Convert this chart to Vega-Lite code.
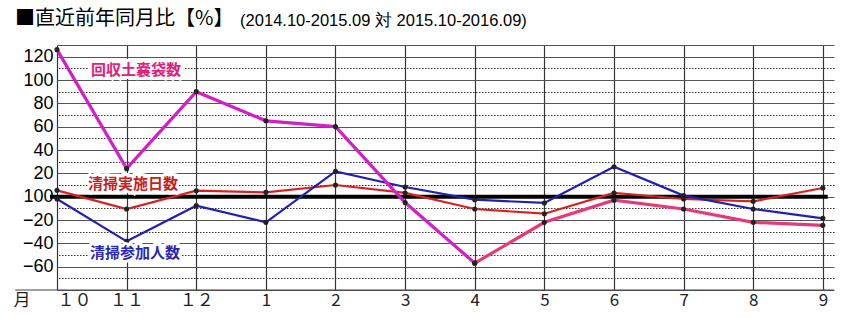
{
  "$schema": "https://vega.github.io/schema/vega-lite/v6.json",
  "width": 777,
  "height": 245,
  "autosize": {"type": "none"},
  "padding": {"left": 57, "top": 45, "right": 9, "bottom": 28},
  "background": "white",
  "title": {
    "text": "■直近前年同月比【%】",
    "anchor": "start",
    "frame": "group",
    "dx": -42,
    "font": "Noto Sans CJK JP",
    "fontSize": 20,
    "fontWeight": "normal",
    "color": "#000",
    "offset": -16
  },
  "config": {
    "view": {"stroke": null},
    "axis": {"domain": false, "ticks": false}
  },
  "datasets": {
    "series": [
      {"m": 0, "s": "mag", "v": 126}, {"m": 1, "s": "mag", "v": 24}, {"m": 2, "s": "mag", "v": 90}, {"m": 3, "s": "mag", "v": 65},
      {"m": 4, "s": "mag", "v": 60}, {"m": 5, "s": "mag", "v": -5}, {"m": 6, "s": "mag", "v": -57},
      {"m": 6, "s": "pink", "v": -57}, {"m": 7, "s": "pink", "v": -22}, {"m": 8, "s": "pink", "v": -3}, {"m": 9, "s": "pink", "v": -10.6},
      {"m": 10, "s": "pink", "v": -22}, {"m": 11, "s": "pink", "v": -24.6},
      {"m": 0, "s": "red", "v": 5.4}, {"m": 1, "s": "red", "v": -10.6}, {"m": 2, "s": "red", "v": 5.1}, {"m": 3, "s": "red", "v": 3.7},
      {"m": 4, "s": "red", "v": 10}, {"m": 5, "s": "red", "v": 3.2}, {"m": 6, "s": "red", "v": -10.6}, {"m": 7, "s": "red", "v": -14.6},
      {"m": 8, "s": "red", "v": 3.2}, {"m": 9, "s": "red", "v": -2}, {"m": 10, "s": "red", "v": -4}, {"m": 11, "s": "red", "v": 7.4},
      {"m": 0, "s": "blue", "v": -2}, {"m": 1, "s": "blue", "v": -38.3}, {"m": 2, "s": "blue", "v": -7.7}, {"m": 3, "s": "blue", "v": -22},
      {"m": 4, "s": "blue", "v": 21.7}, {"m": 5, "s": "blue", "v": 8.3}, {"m": 6, "s": "blue", "v": -2.6}, {"m": 7, "s": "blue", "v": -5.4},
      {"m": 8, "s": "blue", "v": 25.7}, {"m": 9, "s": "blue", "v": 0.9}, {"m": 10, "s": "blue", "v": -10.6}, {"m": 11, "s": "blue", "v": -18.6}
    ],
    "zero": [{"a": -0.1, "b": 11.07, "v": 0}],
    "base": [{"a": -0.6, "b": 11.16, "v": -80}],
    "labels": [
      {"m": 1.135, "v": 108.9, "t": "回収土嚢袋数", "s": "mag"},
      {"m": 1.09, "v": 11.1, "t": "清掃実施日数", "s": "red"},
      {"m": 1.12, "v": -48, "t": "清掃参加人数", "s": "blue"}
    ],
    "note": [{"m": 2.63, "v": 151, "t": "(2014.10-2015.09 対 2015.10-2016.09)"}]
  },
  "layer": [
    {
      "data": {"name": "base"},
      "mark": {"type": "rule", "color": "#444", "strokeWidth": 1.2, "clip": false},
      "encoding": {
        "x": {
          "field": "a", "type": "quantitative",
          "scale": {"domain": [0, 11.16], "nice": false, "zero": false},
          "axis": {
            "values": [0, 1, 2, 3, 4, 5, 6, 7, 8, 9, 10, 11],
            "labelExpr": "['１０','１１','１２','1','2','3','4','5','6','7','8','9'][datum.value]",
            "labelFont": "Noto Sans CJK JP",
            "labelFontSize": 17,
            "labelColor": "#222",
            "labelPadding": 2,
            "labelOverlap": false,
            "grid": true,
            "gridColor": "#333",
            "gridWidth": 1.2,
            "title": "月",
            "titleFont": "Noto Sans CJK JP",
            "titleFontSize": 17,
            "titleFontWeight": "normal",
            "titleColor": "#222",
            "titleAnchor": "start",
            "titleAlign": "left",
            "titleBaseline": "top",
            "titleX": -44,
            "titleY": 2
          }
        },
        "x2": {"field": "b"},
        "y": {
          "field": "v", "type": "quantitative",
          "scale": {"domain": [-80, 130], "nice": false, "zero": false},
          "axis": {
            "orient": "left",
            "values": [-80, -60, -40, -20, 0, 20, 40, 60, 80, 100, 120, 130],
            "labelExpr": "datum.value == 0 ? '100' : ((datum.value >= -60 && datum.value <= 120) ? datum.label : '')",
            "labelFont": "Liberation Sans",
            "labelFontSize": 18,
            "labelColor": "#000",
            "labelPadding": 4,
            "labelOverlap": false,
            "grid": true,
            "gridColor": "#555",
            "gridWidth": 1.2,
            "title": null
          }
        }
      }
    },
    {
      "data": {"name": "zero"},
      "mark": {"type": "rule", "color": "#000", "strokeWidth": 4, "clip": false},
      "encoding": {
        "x": {"field": "a", "type": "quantitative"},
        "x2": {"field": "b"},
        "y": {
          "field": "v", "type": "quantitative",
          "axis": {
            "orient": "right",
            "values": [-70, -50, -30, -10, 10, 30, 50, 70, 90, 110],
            "labels": false,
            "grid": true,
            "gridColor": "#333",
            "gridDash": [1.5, 1.5],
            "gridWidth": 1.2,
            "title": null
          }
        }
      }
    },
    {
      "data": {"name": "series"},
      "transform": [{"filter": "datum.s == 'blue' || datum.s == 'red'"}],
      "mark": {"type": "line", "strokeWidth": 2.2},
      "encoding": {
        "x": {"field": "m", "type": "quantitative"},
        "y": {"field": "v", "type": "quantitative", "axis": null},
        "color": {"field": "s", "type": "nominal", "scale": {"domain": ["blue", "red"], "range": ["#2020b4", "#dc2020"]}, "legend": null},
        "order": {"field": "m", "type": "quantitative"}
      }
    },
    {
      "data": {"name": "series"},
      "transform": [{"filter": "datum.s == 'pink' || datum.s == 'mag'"}],
      "mark": {"type": "line", "strokeWidth": 3.2},
      "encoding": {
        "x": {"field": "m", "type": "quantitative"},
        "y": {"field": "v", "type": "quantitative", "axis": null},
        "color": {"field": "s", "type": "nominal", "scale": {"domain": ["pink", "mag"], "range": ["#e8387a", "#d41ec8"]}, "legend": null},
        "order": {"field": "m", "type": "quantitative"}
      }
    },
    {
      "data": {"name": "series"},
      "mark": {"type": "point", "filled": true, "color": "#222", "size": 26, "opacity": 1},
      "encoding": {
        "x": {"field": "m", "type": "quantitative"},
        "y": {"field": "v", "type": "quantitative", "axis": null}
      }
    },
    {
      "data": {"name": "labels"},
      "mark": {"type": "text", "font": "Noto Sans CJK JP", "fontSize": 15, "fontWeight": "bold", "stroke": "white", "strokeWidth": 6, "align": "center", "baseline": "middle"},
      "encoding": {
        "x": {"field": "m", "type": "quantitative"},
        "y": {"field": "v", "type": "quantitative", "axis": null},
        "text": {"field": "t"}
      }
    },
    {
      "data": {"name": "labels"},
      "mark": {"type": "text", "font": "Noto Sans CJK JP", "fontSize": 15, "fontWeight": "bold", "align": "center", "baseline": "middle"},
      "encoding": {
        "x": {"field": "m", "type": "quantitative"},
        "y": {"field": "v", "type": "quantitative", "axis": null},
        "text": {"field": "t"},
        "color": {"field": "s", "type": "nominal", "scale": {"domain": ["mag", "red", "blue"], "range": ["#e0207a", "#c81e1e", "#2828b4"]}, "legend": null}
      }
    },
    {
      "data": {"name": "note"},
      "mark": {"type": "text", "font": "Liberation Sans", "fontSize": 16.5, "align": "left", "baseline": "middle", "color": "#000", "clip": false},
      "encoding": {
        "x": {"field": "m", "type": "quantitative"},
        "y": {"field": "v", "type": "quantitative", "axis": null},
        "text": {"field": "t"}
      }
    }
  ],
  "resolve": {"scale": {"color": "independent"}, "axis": {"y": "independent"}}
}
